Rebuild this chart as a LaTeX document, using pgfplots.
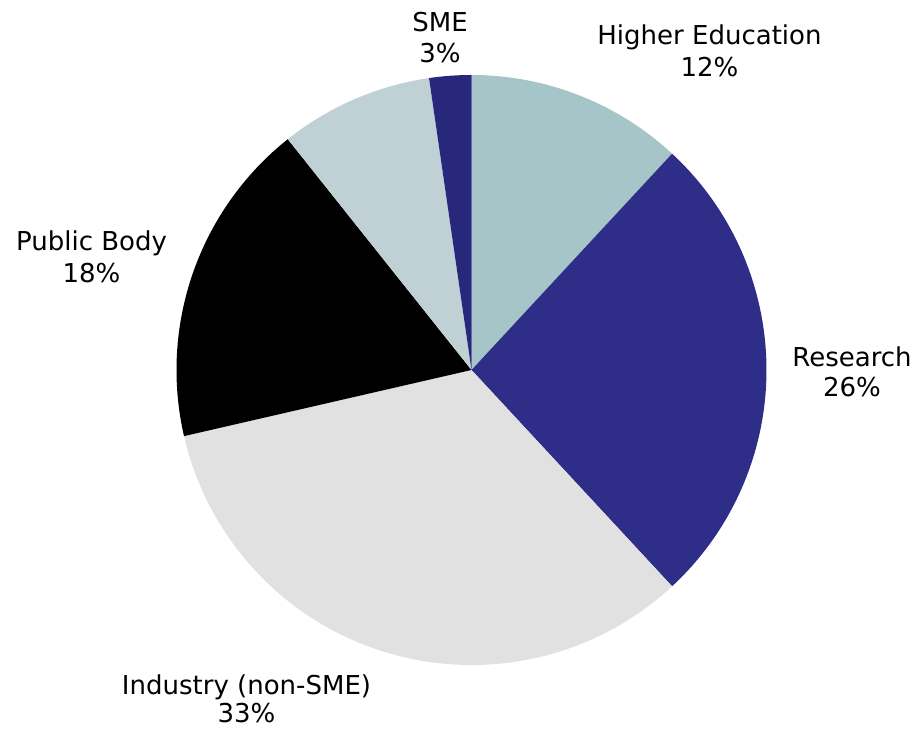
\documentclass[border=0pt]{standalone}
\usepackage{fontspec}
\setmainfont{DejaVu Sans}
\usepackage{pgfplots}
\pgfplotsset{compat=1.18}
\definecolor{hed}{HTML}{A6C5C8}
\definecolor{res}{HTML}{2E2D87}
\definecolor{ind}{HTML}{E1E1E1}
\definecolor{pub}{HTML}{000000}
\definecolor{oth}{HTML}{BFD1D5}
\definecolor{sme}{HTML}{27277B}
\tikzset{lbl/.style={font=\fontsize{13}{15}\selectfont, text=black, inner sep=0pt, anchor=base}}
\begin{document}
\begin{tikzpicture}
\begin{axis}[
  x=0.5pt, y=0.5pt,
  xmin=0, xmax=918, ymin=0, ymax=731,
  hide axis, clip=false,
]
\path (axis cs:0,0) rectangle (axis cs:918,731);
\xdef\angA{90}
\foreach \v/\c in {11.9/hed,26.2/res,33.3/ind,17.9/pub,8.4/oth,2.3/sme}{
  \pgfmathsetmacro\angB{\angA-3.6*\v}
  \edef\temp{\noexpand\fill[\c] (axis cs:471.5,361) -- ++(\angA:147.5pt) arc[start angle=\angA, end angle=\angB, radius=147.5pt] -- cycle;}
  \temp
  \xdef\angA{\angB}
}
\node[lbl] at (axis cs:440,699) {SME};
\node[lbl] at (axis cs:440,668) {3\%};
\node[lbl] at (axis cs:709.5,686) {Higher Education};
\node[lbl] at (axis cs:709.5,654) {12\%};
\node[lbl] at (axis cs:91.5,480) {Public Body};
\node[lbl] at (axis cs:91.5,448) {18\%};
\node[lbl] at (axis cs:852,364) {Research};
\node[lbl] at (axis cs:852,334) {26\%};
\node[lbl] at (axis cs:246.5,36) {Industry (non-SME)};
\node[lbl] at (axis cs:246.5,8) {33\%};
\end{axis}
\end{tikzpicture}
\end{document}
